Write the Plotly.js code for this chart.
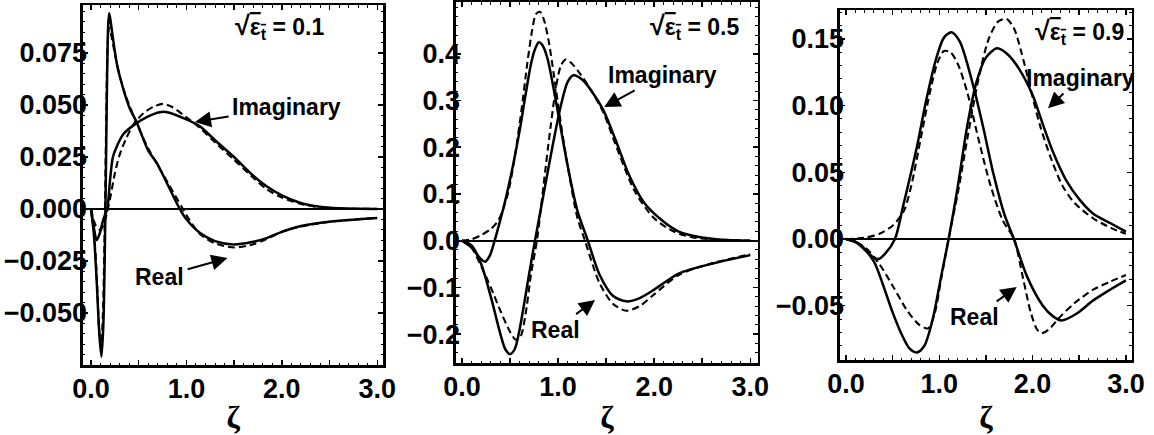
<!DOCTYPE html>
<html><head><meta charset="utf-8">
<script src="https://cdn.plot.ly/plotly-3.0.1.min.js"></script>
<style>html,body{margin:0;padding:0;background:#fff}#chart{width:1154px;height:435px}</style>
</head><body><div id="chart"></div>
<script>
// ---------- Panel 1 : sqrt(eps_t) = 0.1 ----------
const p1_re_x  = [0,0.03,0.06,0.09,0.11,0.13,0.15,0.165,0.18,0.19,0.2,0.23,0.27,0.3,0.4,0.48,0.6,0.69,0.8,0.93,1.0,1.14,1.3,1.49,1.7,1.84,2.0,2.19,2.54,3.0];
const p1_re_y  = [0,-0.012,-0.035,-0.062,-0.071,-0.055,-0.005,0.05,0.088,0.094,0.092,0.082,0.07,0.064,0.049,0.0415,0.028,0.022,0.012,0,-0.005,-0.0115,-0.0155,-0.0171,-0.0158,-0.014,-0.011,-0.0083,-0.0059,-0.0043];
const p1_reD_x = [0,0.03,0.06,0.085,0.105,0.125,0.145,0.16,0.175,0.19,0.21,0.24,0.28,0.33,0.4,0.5,0.6,0.7,0.8,0.95,1.0,1.14,1.3,1.5,1.7,1.84,2.0,2.19,2.54,3.0];
const p1_reD_y = [0,-0.01,-0.032,-0.058,-0.066,-0.05,-0.005,0.045,0.08,0.087,0.084,0.077,0.068,0.059,0.05,0.039,0.029,0.021,0.013,0.001,-0.003,-0.012,-0.0165,-0.0185,-0.017,-0.0145,-0.011,-0.0085,-0.006,-0.0043];
const p1_im_x  = [0,0.03,0.06,0.09,0.13,0.17,0.2,0.23,0.28,0.34,0.47,0.6,0.72,0.8,1.0,1.14,1.3,1.49,1.7,1.84,2.0,2.19,2.4,2.6,3.0];
const p1_im_y  = [0,-0.009,-0.015,-0.012,-0.005,0,0.014,0.025,0.031,0.036,0.041,0.0445,0.0465,0.0465,0.043,0.0397,0.033,0.0253,0.016,0.0109,0.0065,0.003,0.001,0.0003,0];
const p1_imD_x = [0,0.05,0.1,0.15,0.2,0.25,0.3,0.37,0.45,0.55,0.65,0.75,0.85,1.0,1.14,1.3,1.49,1.7,1.84,2.0,2.19,2.4,2.6,3.0];
const p1_imD_y = [0,-0.008,-0.01,-0.005,0.005,0.017,0.026,0.034,0.041,0.046,0.049,0.0505,0.049,0.044,0.039,0.032,0.024,0.015,0.0095,0.0055,0.0025,0.0008,0.0002,0];

// ---------- Panel 2 : sqrt(eps_t) = 0.5 ----------
const p2_re_x  = [0,0.1,0.2,0.24,0.29,0.34,0.4,0.46,0.53,0.6,0.66,0.72,0.76,0.8,0.84,0.89,0.95,1.02,1.1,1.2,1.31,1.43,1.57,1.71,1.85,2.0,2.26,2.61,3.0];
const p2_re_y  = [0,-0.015,-0.04,-0.045,-0.032,0,0.045,0.094,0.16,0.235,0.31,0.38,0.41,0.425,0.418,0.39,0.33,0.25,0.16,0.065,0,-0.072,-0.118,-0.13,-0.123,-0.105,-0.07,-0.049,-0.031];
const p2_reD_x = [0,0.1,0.2,0.3,0.38,0.475,0.55,0.62,0.68,0.73,0.77,0.81,0.85,0.9,0.96,1.03,1.1,1.2,1.28,1.43,1.57,1.71,1.85,2.0,2.26,2.61,3.0];
const p2_reD_y = [0,0.003,0.012,0.025,0.044,0.098,0.18,0.28,0.38,0.45,0.485,0.49,0.475,0.43,0.35,0.25,0.16,0.05,0,-0.09,-0.135,-0.15,-0.14,-0.115,-0.073,-0.048,-0.029];
const p2_im_x  = [0,0.1,0.2,0.3,0.4,0.45,0.5,0.55,0.6,0.7,0.76,0.85,0.95,1.03,1.1,1.16,1.25,1.35,1.47,1.6,1.74,1.9,2.09,2.25,2.44,2.7,3.0];
const p2_im_y  = [0,-0.01,-0.05,-0.12,-0.2,-0.232,-0.243,-0.232,-0.19,-0.07,0,0.1,0.21,0.29,0.34,0.354,0.345,0.32,0.28,0.215,0.14,0.08,0.042,0.02,0.009,0.002,0];
const p2_imD_x = [0,0.1,0.2,0.3,0.4,0.5,0.56,0.61,0.66,0.72,0.78,0.85,0.92,0.98,1.03,1.08,1.14,1.22,1.32,1.47,1.6,1.8,2.0,2.2,2.4,3.0];
const p2_imD_y = [0,-0.015,-0.055,-0.1,-0.15,-0.195,-0.212,-0.205,-0.16,-0.07,0,0.12,0.24,0.33,0.375,0.388,0.38,0.36,0.33,0.275,0.205,0.105,0.048,0.02,0.007,0];

// ---------- Panel 3 : sqrt(eps_t) = 0.9 ----------
const p3_re_x  = [0,0.1,0.2,0.3,0.35,0.42,0.525,0.61,0.76,0.86,0.97,1.05,1.13,1.22,1.36,1.47,1.58,1.7,1.8,1.94,2.11,2.22,2.31,2.47,2.65,2.83,3.0];
const p3_re_y  = [0,-0.002,-0.008,-0.014,-0.015,-0.011,0,0.024,0.069,0.104,0.136,0.151,0.155,0.148,0.116,0.084,0.049,0.018,0,-0.028,-0.05,-0.058,-0.061,-0.056,-0.046,-0.038,-0.031];
const p3_reD_x = [0,0.2,0.36,0.5,0.62,0.7,0.8,0.9,0.98,1.05,1.12,1.2,1.3,1.42,1.55,1.68,1.8,1.9,1.98,2.05,2.1,2.17,2.3,2.45,2.65,2.83,3.0];
const p3_reD_y = [0,0.001,0.004,0.01,0.021,0.04,0.075,0.11,0.132,0.141,0.14,0.131,0.11,0.075,0.04,0.014,0,-0.03,-0.055,-0.068,-0.0705,-0.068,-0.058,-0.048,-0.038,-0.032,-0.027];
const p3_im_x  = [0,0.15,0.3,0.4,0.5,0.6,0.68,0.76,0.84,0.93,1.02,1.1,1.2,1.3,1.4,1.5,1.62,1.74,1.86,2.0,2.11,2.22,2.36,2.51,2.65,2.83,3.0];
const p3_im_y  = [0,-0.004,-0.017,-0.035,-0.055,-0.072,-0.082,-0.085,-0.08,-0.06,-0.028,0,0.04,0.085,0.118,0.136,0.143,0.138,0.127,0.108,0.086,0.065,0.044,0.029,0.019,0.012,0.0055];
const p3_imD_x = [0,0.2,0.35,0.5,0.65,0.78,0.88,0.95,1.02,1.1,1.2,1.3,1.42,1.53,1.63,1.72,1.8,1.88,1.97,2.08,2.2,2.32,2.45,2.65,2.85,3.0];
const p3_imD_y = [0,-0.006,-0.018,-0.035,-0.053,-0.064,-0.067,-0.056,-0.03,0,0.035,0.075,0.12,0.15,0.163,0.165,0.158,0.14,0.115,0.085,0.06,0.04,0.027,0.0155,0.008,0.004];

// ---------- tick labels ----------
const xTickVals = [0,0.5,1,1.5,2,2.5,3];
const xTickText = ["0.0"," ","1.0"," ","2.0"," ","3.0"];
const y1TickVals = [-0.05,-0.025,0,0.025,0.05,0.075];
const y1TickText = ["\u22120.050","\u22120.025","0.000","0.025","0.050","0.075"];
const y2TickVals = [-0.2,-0.1,0,0.1,0.2,0.3,0.4];
const y2TickText = ["\u22120.2","\u22120.1","0.0","0.1","0.2","0.3","0.4"];
const y3TickVals = [-0.05,0,0.05,0.1,0.15];
const y3TickText = ["\u22120.05","0.00","0.05","0.10","0.15"];
const epsLabels = ["0.1","0.5","0.9"];

const FONT = "Liberation Sans, Arial, sans-serif";

function line(x,y,xa,ya,dashed){
  return {x:x,y:y,xaxis:xa,yaxis:ya,type:'scatter',mode:'lines',
    line:{color:'#000',width:dashed?2.1:2.5,dash:dashed?'7px,4px':'solid',shape:'spline',smoothing:0.8},
    hoverinfo:'skip',showlegend:false};
}
const data = [
  line(p1_re_x,p1_re_y,'x','y',false), line(p1_reD_x,p1_reD_y,'x','y',true),
  line(p1_im_x,p1_im_y,'x','y',false), line(p1_imD_x,p1_imD_y,'x','y',true),
  line(p2_re_x,p2_re_y,'x2','y2',false), line(p2_reD_x,p2_reD_y,'x2','y2',true),
  line(p2_im_x,p2_im_y,'x2','y2',false), line(p2_imD_x,p2_imD_y,'x2','y2',true),
  line(p3_re_x,p3_re_y,'x3','y3',false), line(p3_reD_x,p3_reD_y,'x3','y3',true),
  line(p3_im_x,p3_im_y,'x3','y3',false), line(p3_imD_x,p3_imD_y,'x3','y3',true)
];

const TICKSIZE = 27;
function xax(domain,range,anchor){
  return {domain:domain,range:range,anchor:anchor,tickvals:xTickVals,ticktext:xTickText,
    ticks:'inside',ticklen:5,tickwidth:1.5,tickcolor:'#000',
    minor:{dtick:0.1,ticks:'inside',ticklen:2.5,tickcolor:'#000',tickwidth:1},
    showline:true,linewidth:2.5,linecolor:'#000',mirror:'allticks',
    showgrid:false,zeroline:false,
    tickfont:{family:FONT,size:TICKSIZE,color:'#000',weight:700},
    ticklabelstandoff:-2,
    title:{text:'\u03b6',font:{family:"Liberation Serif, serif",size:32,color:'#000',weight:700},standoff:6},
    automargin:false,fixedrange:true};
}
function yax(domain,range,anchor,vals,text,minor){
  return {domain:domain,range:range,anchor:anchor,tickvals:vals,ticktext:text,
    ticks:'inside',ticklen:5,tickwidth:1.5,tickcolor:'#000',
    minor:{dtick:minor,ticks:'inside',ticklen:2.5,tickcolor:'#000',tickwidth:1},
    showline:true,linewidth:2.5,linecolor:'#000',mirror:'allticks',
    showgrid:false,zeroline:true,zerolinecolor:'#000',zerolinewidth:2.2,
    tickfont:{family:FONT,size:TICKSIZE,color:'#000',weight:700},
    ticklabelstandoff:-12,
    automargin:false,fixedrange:true};
}

function ann(xr,yr,x,y,ax,ay,text){
  return {xref:xr,yref:yr,x:x,y:y,text:text,showarrow:true,
    axref:xr,ayref:yr,ax:ax,ay:ay,arrowhead:2,arrowsize:1.6,arrowwidth:2,arrowcolor:'#000',
    standoff:0,startstandoff:2,
    font:{family:FONT,size:23,color:'#000',weight:700}};
}
function epsAnn(xr,yr,x,y,val){
  return {xref:xr,yref:yr,x:x,y:y,showarrow:false,
    text:"<span style='font-size:27px'>\u221a</span><span style='text-decoration:overline'>\u03b5<sub>t</sub></span> = "+val,
    font:{family:FONT,size:23,color:'#000',weight:700}};
}

const layout = {
  width:1154,height:435,margin:{l:0,r:0,t:0,b:0},
  paper_bgcolor:'#fff',plot_bgcolor:'#fff',showlegend:false,
  xaxis: xax([0.0719,0.3319],[-0.084,3.06],'y'),
  yaxis: yax([0.1609,0.9885],[-0.075,0.098],'x',y1TickVals,y1TickText,0.005),
  xaxis2: xax([0.3951,0.6568],[-0.0625,3.08],'y2'),
  yaxis2: yax([0.1655,0.9954],[-0.262,0.511],'x2',y2TickVals,y2TickText,0.02),
  xaxis3: xax([0.7279,0.9809],[-0.064,3.065],'y3'),
  yaxis3: yax([0.1724,0.977],[-0.0907,0.1717],'x3',y3TickVals,y3TickText,0.01),
  annotations:[
    epsAnn('x','y',1.98,0.0875,epsLabels[0]),
    ann('x','y',1.09,0.0418,2.05,0.049,'Imaginary'),
    ann('x','y',1.43,-0.0236,0.72,-0.0327,'Real'),
    epsAnn('x2','y2',2.43,0.458,epsLabels[1]),
    ann('x2','y2',1.48,0.286,2.09,0.355,'Imaginary'),
    ann('x2','y2',1.385,-0.127,0.97,-0.191,'Real'),
    epsAnn('x3','y3',2.50,0.155,epsLabels[2]),
    ann('x3','y3',2.165,0.098,2.51,0.121,'Imaginary'),
    ann('x3','y3',1.83,-0.036,1.38,-0.0585,'Real')
  ]
};
Plotly.newPlot('chart',data,layout,{staticPlot:true,displayModeBar:false});
</script></body></html>
